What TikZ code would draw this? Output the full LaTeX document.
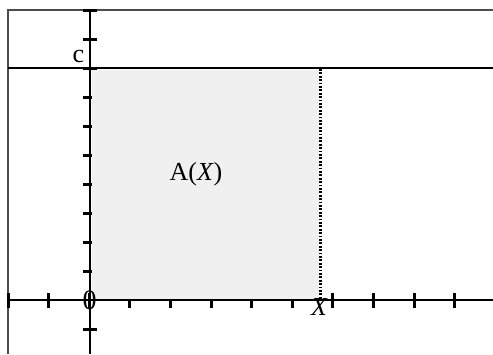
\documentclass[tikz,border=0pt]{standalone}
\usepackage{fontspec}
\setmainfont{Liberation Serif}
\begin{document}
\begin{tikzpicture}[x=1pt,y=-1pt,
  axis/.style={line width=2.8pt,black},
  tickmark/.style={line width=3pt,black},
  frameline/.style={line width=1.2pt,black!70},
  lbl/.style={inner sep=0pt,font=\fontsize{26}{30}\selectfont}]
\useasboundingbox (0,0) rectangle (493,354);
% frame
\draw[frameline] (8,354) -- (8,10) -- (493,10);
% ticks on y axis
\foreach \k in {0,...,9,11} {
  \draw[tickmark] (83,{10+29*\k}) -- (97,{10+29*\k});
}
% ticks on x axis
\foreach \k in {0,...,11} {
  \draw[tickmark] ({8+40.6*\k},293) -- ({8+40.6*\k},308);
}
% shaded region
\fill[black!6] (91.5,69.5) rectangle (319,298.5);
% axes
\draw[axis] (8,300) -- (493,300);
\draw[axis] (90,10) -- (90,354);
% dotted vertical at X
\coordinate (xtop) at (320.5,69);
\coordinate (xbot) at (320.5,299);
\draw[line width=2.2pt,dash pattern=on 1.8pt off 1.6pt] (xtop) -- (xbot);
% line y = c
\draw[line width=2.6pt] (8,68) -- (493,68);
% labels
\node[lbl] (c) at (78.5,56) {c};
\node[lbl,font=\fontsize{28}{32}\selectfont] (zero) at (89.5,300.5) {0};
\node[lbl] (A) at (196,174) {A(\textit{X})};
\node[lbl] (X) at (319.5,307) {\textit{X}};
\end{tikzpicture}
\end{document}
